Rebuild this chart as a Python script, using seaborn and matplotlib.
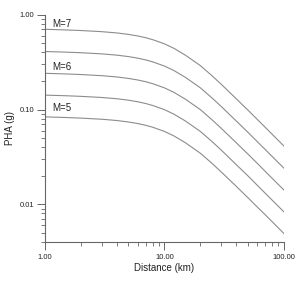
#!/usr/bin/env python3
"""
PHA attenuation curves vs distance for M=5..7
"""

import numpy as np
import pandas as pd
import matplotlib
matplotlib.use('Agg')
import matplotlib.pyplot as plt
import matplotlib.ticker as mticker
import seaborn as sns

# Distances (km) where the curves were read
distance = [1, 1.5, 2, 3, 4, 5, 6, 7, 8, 10, 12, 15, 20, 25, 30, 40, 50, 60, 70, 100]

# PHA (g)
pha_m70 = [0.7029, 0.6921, 0.6821, 0.6633, 0.6432, 0.6210, 0.5972, 0.5722, 0.5455, 0.4933,
           0.4425, 0.3741, 0.2903, 0.2272, 0.1837, 0.1294, 0.0984, 0.0783, 0.0645, 0.0411]
pha_m65 = [0.4097, 0.4034, 0.3976, 0.3866, 0.3749, 0.3620, 0.3481, 0.3335, 0.3180, 0.2875,
           0.2579, 0.2181, 0.1692, 0.1324, 0.1071, 0.0754, 0.0574, 0.0456, 0.0376, 0.0240]
pha_m60 = [0.2411, 0.2374, 0.2340, 0.2275, 0.2206, 0.2130, 0.2048, 0.1963, 0.1871, 0.1692,
           0.1518, 0.1283, 0.0996, 0.0779, 0.0630, 0.0444, 0.0338, 0.0269, 0.0221, 0.0141]
pha_m55 = [0.1419, 0.1397, 0.1377, 0.1339, 0.1299, 0.1254, 0.1206, 0.1155, 0.1101, 0.0996,
           0.0893, 0.0755, 0.0586, 0.0459, 0.0371, 0.0261, 0.0199, 0.0158, 0.0130, 0.0083]
pha_m50 = [0.0836, 0.0823, 0.0811, 0.0789, 0.0765, 0.0738, 0.0710, 0.0680, 0.0649, 0.0587,
           0.0526, 0.0445, 0.0345, 0.0270, 0.0218, 0.0154, 0.0117, 0.0093, 0.0077, 0.0049]

magnitudes = ['7.0', '6.5', '6.0', '5.5', '5.0']
curves = [pha_m70, pha_m65, pha_m60, pha_m55, pha_m50]

# Curve labels (only whole magnitudes are labelled)
label_text = ['M=7', 'M=6', 'M=5']
label_x = [1.14, 1.14, 1.16]
label_y = [0.80, 0.284, 0.104]

y_ticks = [0.01, 0.10, 1.00]
x_ticks = [1, 10, 100]


def main():
    rows = []
    for mag, vals in zip(magnitudes, curves):
        for d, v in zip(distance, vals):
            rows.append({'distance': d, 'pha': v, 'mag': mag})
    df = pd.DataFrame(rows)

    sns.set_style('white')
    plt.rcParams['font.family'] = ['Liberation Sans', 'DejaVu Sans']

    fig = plt.figure(figsize=(2.95, 3.02), dpi=100)
    ax = fig.add_axes([0.1525, 0.199, 0.810, 0.752])

    sns.lineplot(data=df, x='distance', y='pha', hue='mag',
                 palette=['#8c8c8c'] * len(magnitudes), linewidth=0.8,
                 legend=False, ax=ax)

    ax.set_xscale('log')
    ax.set_yscale('log')
    ax.set_xlim(1, 100)
    ax.set_ylim(0.004, 1.0)

    ax.xaxis.set_major_locator(mticker.FixedLocator(x_ticks))
    ax.xaxis.set_major_formatter(mticker.FixedFormatter(['%.2f' % t for t in x_ticks]))
    ax.yaxis.set_major_locator(mticker.FixedLocator(y_ticks))
    ax.yaxis.set_major_formatter(mticker.FixedFormatter(['%.2f' % t for t in y_ticks]))
    ax.xaxis.set_minor_locator(mticker.LogLocator(subs=np.arange(2, 10)))
    ax.yaxis.set_minor_locator(mticker.LogLocator(subs=np.arange(2, 10)))
    ax.xaxis.set_minor_formatter(mticker.NullFormatter())
    ax.yaxis.set_minor_formatter(mticker.NullFormatter())

    ax.tick_params(which='both', bottom=True, left=True, top=False, right=False)
    ax.tick_params(which='major', direction='out', length=6, width=0.7,
                   color='#666666', labelsize=5.5, labelcolor='#222222', pad=2)
    ax.tick_params(which='minor', direction='out', length=3, width=0.6,
                   color='#666666')
    ax.tick_params(axis='x', which='major', pad=3)

    for side in ['top', 'right']:
        ax.spines[side].set_visible(False)
    for side in ['left', 'bottom']:
        ax.spines[side].set_color('#666666')
        ax.spines[side].set_linewidth(0.8)

    for txt, x, y in zip(label_text, label_x, label_y):
        ax.text(x, y, txt, fontsize=7, color='#222222', va='center', ha='left')

    ax.set_xlabel('Distance (km)', fontsize=7, color='#222222', labelpad=1)
    ax.set_ylabel('PHA (g)', fontsize=7, color='#222222', labelpad=3)

    fig.savefig('out.png', dpi=100)


if __name__ == '__main__':
    main()
